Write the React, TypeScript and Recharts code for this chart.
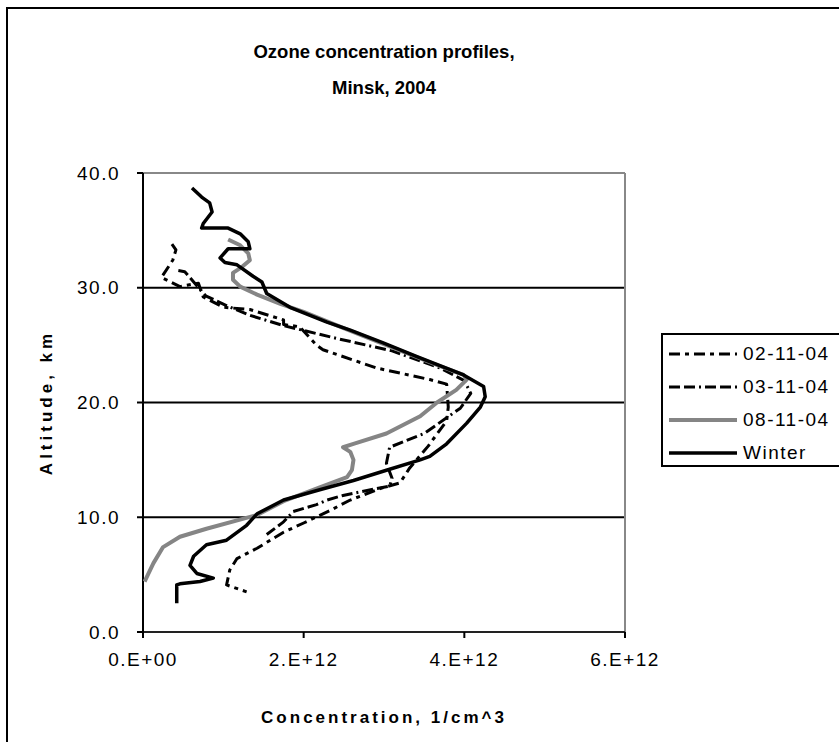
import React from 'react';
import { ScatterChart, Scatter, XAxis, YAxis, CartesianGrid, ReferenceLine, Legend, Label } from 'recharts';

const TITLE_LINES = ['Ozone concentration profiles,', 'Minsk, 2004'];
const X_TITLE = 'Concentration, 1/cm^3';
const Y_TITLE = 'Altitude, km';
const X_TICKS = [0, 2, 4, 6]; // concentration in units of 1E+12 1/cm^3
const Y_TICKS = [0, 10, 20, 30, 40];
const SERIES_NAMES = ['02-11-04', '03-11-04', '08-11-04', 'Winter'];

// [concentration (1E+12 1/cm^3), altitude (km)]
const prof021104: [number, number][] = [
  [0.36, 33.8], [0.41, 33.3], [0.37, 32.4], [0.23, 30.9], [0.46, 30.1], [0.69, 30.4],
  [0.75, 29.2], [1.0, 28.3], [1.33, 28.1], [1.75, 27.2], [1.75, 26.8], [1.95, 26.6],
  [2.16, 25.0], [2.24, 24.6], [2.91, 23.0], [3.57, 22.0], [3.78, 21.6], [3.8, 19.6],
  [3.78, 18.4], [3.55, 16.2], [3.32, 14.3], [3.2, 13.0], [2.95, 12.5], [2.58, 11.5],
  [2.33, 10.6], [2.0, 9.5], [1.75, 8.7], [1.42, 7.3], [1.17, 6.4], [1.08, 5.4],
  [1.04, 4.1], [1.29, 3.5],
];

const prof031104: [number, number][] = [
  [0.44, 31.5], [0.52, 31.4], [0.78, 29.3], [1.05, 28.4], [1.33, 27.6], [1.75, 26.7],
  [2.4, 25.6], [3.1, 24.5], [3.7, 23.0], [4.0, 21.9], [4.08, 20.8], [3.95, 19.5],
  [3.5, 17.3], [3.07, 16.1], [3.03, 14.7], [3.1, 13.4], [3.07, 12.7], [2.91, 12.5],
  [2.49, 11.9], [2.29, 11.5], [2.16, 11.1], [1.87, 10.5], [1.75, 9.6], [1.54, 8.5],
];

const prof081104: [number, number][] = [
  [1.06, 34.2], [1.21, 33.7], [1.31, 33.0], [1.33, 32.4], [1.23, 31.8], [1.12, 31.3],
  [1.12, 30.7], [1.21, 30.1], [1.42, 29.4], [1.71, 28.6], [2.0, 27.9], [2.49, 26.5],
  [3.07, 24.9], [3.61, 23.4], [3.99, 22.4], [4.03, 22.0], [3.9, 21.1], [3.66, 20.0],
  [3.45, 18.8], [3.03, 17.3], [2.62, 16.4], [2.49, 16.1], [2.58, 15.7], [2.62, 15.0],
  [2.6, 14.1], [2.54, 13.5], [2.2, 12.6], [1.75, 11.4], [1.42, 10.2], [0.79, 9.0],
  [0.46, 8.3], [0.25, 7.4], [0.13, 6.0], [0.02, 4.4],
];

const profWinter: [number, number][] = [
  [0.61, 38.7], [0.73, 37.9], [0.83, 37.4], [0.86, 36.6], [0.75, 35.6], [0.73, 35.2],
  [1.06, 35.2], [1.21, 34.7], [1.31, 34.0], [1.33, 33.4], [1.06, 33.4], [0.96, 32.6],
  [1.02, 32.2], [1.17, 32.0], [1.37, 31.0], [1.48, 30.5], [1.54, 29.5], [1.83, 28.3],
  [2.29, 27.0], [2.58, 26.3], [2.99, 25.2], [3.41, 24.0], [3.99, 22.4], [4.24, 21.4],
  [4.26, 20.5], [4.2, 19.6], [4.03, 18.2], [3.78, 16.4], [3.57, 15.3], [3.45, 15.0],
  [3.03, 14.1], [2.62, 13.2], [2.2, 12.4], [1.75, 11.5], [1.42, 10.3], [1.29, 9.3],
  [1.04, 8.0], [0.79, 7.6], [0.63, 6.6], [0.585, 5.8], [0.67, 5.1], [0.875, 4.7],
  [0.71, 4.4], [0.46, 4.2], [0.42, 4.1], [0.42, 2.5],
];

const toPts = (arr: [number, number][]) => arr.map(([c, a]) => ({ c, a }));

const STYLES = [
  { stroke: '#000', strokeWidth: 3, strokeDasharray: '11 5 4 5' as string | undefined },
  { stroke: '#000', strokeWidth: 3, strokeDasharray: '11 4 11 4 2 4' as string | undefined },
  { stroke: '#858585', strokeWidth: 4, strokeDasharray: undefined as string | undefined },
  { stroke: '#000', strokeWidth: 3.5, strokeDasharray: undefined as string | undefined },
];
const DATASETS = [prof021104, prof031104, prof081104, profWinter];

const FONT = '"Liberation Sans", Arial, Helvetica, sans-serif';

const xFmt = (v: number) => (v === 0 ? '0.E+00' : `${v}.E+12`);
const yFmt = (v: number) => v.toFixed(1);

const NoDot = () => <g />;

const LegendBox = () => (
  <div
    style={{
      borderLeft: '2px solid #000',
      borderTop: '2px solid #000',
      borderBottom: '2px solid #000',
      height: 134,
      width: 200,
      paddingTop: 2,
      boxSizing: 'border-box',
      background: '#fff',
      fontFamily: FONT,
    }}
  >
    {SERIES_NAMES.map((name, i) => (
      <div key={name} style={{ display: 'flex', alignItems: 'center', height: 33 }}>
        <svg width={74} height={10} style={{ marginLeft: 6 }}>
          <line
            x1={0}
            x2={68}
            y1={5}
            y2={5}
            stroke={STYLES[i].stroke}
            strokeWidth={STYLES[i].strokeWidth}
            strokeDasharray={STYLES[i].strokeDasharray}
          />
        </svg>
        <span style={{ fontSize: 19, letterSpacing: 1.5, color: '#000' }}>{name}</span>
      </div>
    ))}
  </div>
);

export default function App() {
  return (
    <div
      style={{
        position: 'absolute',
        left: 0,
        top: 0,
        width: 839,
        height: 742,
        overflow: 'hidden',
        background: '#fff',
        fontFamily: FONT,
      }}
    >
      <div
        style={{
          position: 'absolute',
          left: 6,
          top: 7,
          width: 900,
          height: 800,
          borderLeft: '2px solid #000',
          borderTop: '2px solid #000',
        }}
      />
      {TITLE_LINES.map((t, i) => (
        <div
          key={t}
          style={{
            position: 'absolute',
            left: 143,
            width: 482,
            top: 39 + i * 36,
            textAlign: 'center',
            fontWeight: 'bold',
            fontSize: 18.5,
            lineHeight: '26px',
            color: '#000',
          }}
        >
          {t}
        </div>
      ))}
      <div style={{ position: 'absolute', left: 0, top: 0 }}>
        <ScatterChart width={839} height={742} margin={{ top: 173, right: 214, bottom: 0, left: 0 }}>
          <CartesianGrid vertical={false} horizontalValues={[10, 20, 30]} stroke="#000" strokeWidth={2} />
          <XAxis
            type="number"
            dataKey="c"
            domain={[0, 6]}
            ticks={X_TICKS}
            tickFormatter={xFmt}
            height={110}
            axisLine={{ stroke: '#222', strokeWidth: 2 }}
            tickLine={{ stroke: '#000', strokeWidth: 2 }}
            tickSize={6}
            tickMargin={15}
            tick={{ fill: '#000', fontSize: 19, letterSpacing: 1.5, fontFamily: FONT }}
            allowDataOverflow
          >
            <Label
              value={X_TITLE}
              position="insideBottom"
              offset={19}
              style={{ fontWeight: 'bold', fontSize: 17, letterSpacing: 3, fill: '#000', fontFamily: FONT }}
            />
          </XAxis>
          <YAxis
            type="number"
            dataKey="a"
            domain={[0, 40]}
            ticks={Y_TICKS}
            tickFormatter={yFmt}
            width={143}
            axisLine={{ stroke: '#000', strokeWidth: 2 }}
            tickLine={{ stroke: '#000', strokeWidth: 2 }}
            tickSize={6}
            tickMargin={17}
            tick={{ fill: '#000', fontSize: 19, letterSpacing: 1.5, fontFamily: FONT }}
            allowDataOverflow
          >
            <Label
              value={Y_TITLE}
              angle={-90}
              position="insideLeft"
              offset={46}
              style={{ textAnchor: 'middle', fontWeight: 'bold', fontSize: 17, letterSpacing: 4, fill: '#000', fontFamily: FONT }}
            />
          </YAxis>
          <ReferenceLine y={40} stroke="#888" strokeWidth={2} />
          <ReferenceLine x={6} stroke="#888" strokeWidth={2} />
          {DATASETS.map((d, i) => (
            <Scatter
              key={SERIES_NAMES[i]}
              name={SERIES_NAMES[i]}
              data={toPts(d)}
              fill={STYLES[i].stroke}
              line={{
                stroke: STYLES[i].stroke,
                strokeWidth: STYLES[i].strokeWidth,
                strokeDasharray: STYLES[i].strokeDasharray,
                strokeLinejoin: 'round',
              }}
              lineType="joint"
              shape={NoDot}
              isAnimationActive={false}
            />
          ))}
          <Legend
            layout="horizontal"
            verticalAlign="middle"
            align="center"
            content={LegendBox}
            wrapperStyle={{ left: 661, top: 333, width: 200 }}
          />
        </ScatterChart>
      </div>
    </div>
  );
}
